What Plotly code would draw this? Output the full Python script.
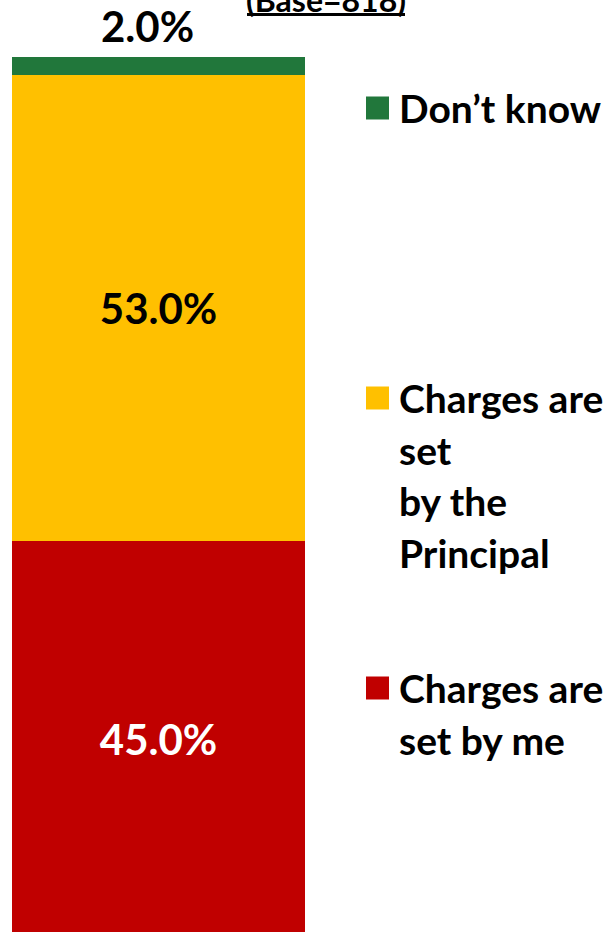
import plotly.graph_objects as go

# Survey responses (Base=818), stacked bottom to top
categories = ["Charges are set by me", "Charges are set by the Principal", "Don’t know"]
values = [45.0, 53.0, 2.0]
colors = ["#C00000", "#FFC000", "#21773B"]
label_colors = ["white", "black", "black"]
# legend text, one string per line, listed top to bottom
legend_lines = [
    ["Don’t know"],
    ["Charges are", "set", "by the", "Principal"],
    ["Charges are", "set by me"],
]
legend_colors = ["#21773B", "#FFC000", "#C00000"]
legend_top_px = [108, 398, 688]
title_text = "(Base=818)"

W, H = 610, 932
ML, MR, MT, MB = 12, 305, 57, 0
PW, PH = W - ML - MR, H - MT - MB
FONT = "Lato"
LABEL_SIZE = 42
LEGEND_SIZE = 39


def px_x(px):
    return (px - ML) / PW


def px_y(py):
    return (H - MB - py) / PH


fig = go.Figure()
n = len(values)
for i, (name, v, c) in enumerate(zip(categories, values, colors)):
    inside = i < n - 1
    fig.add_trace(go.Bar(
        x=[0], y=[v], name=name, width=1,
        marker=dict(color=c, line=dict(width=0)),
        texttemplate="%{y:.1f}%" if inside else "",
        textposition="inside",
        insidetextanchor="middle",
        textfont=dict(family=FONT, size=LABEL_SIZE, color=label_colors[i], weight="bold"),
        showlegend=False,
    ))

annotations = []
# the thin top segment is labelled above the stack
annotations.append(dict(
    text=f"{values[-1]:.1f}%", xref="x", yref="y",
    x=0, y=sum(values), xanchor="center", yanchor="bottom",
    xshift=-11, yshift=4, showarrow=False,
    font=dict(family=FONT, size=LABEL_SIZE, color=label_colors[-1], weight="bold"),
))

shapes = []
line_gap = 51.7
sq = 23
for lines, col, top in zip(legend_lines, legend_colors, legend_top_px):
    shapes.append(dict(
        type="rect", xref="paper", yref="paper",
        x0=px_x(366), x1=px_x(366 + sq),
        y0=px_y(top - sq / 2), y1=px_y(top + sq / 2),
        fillcolor=col, line=dict(width=0),
    ))
    for k, t in enumerate(lines):
        annotations.append(dict(
            text=t, xref="paper", yref="paper",
            x=px_x(397), y=px_y(top + k * line_gap),
            xanchor="left", yanchor="middle", showarrow=False,
            font=dict(family=FONT, size=LEGEND_SIZE, color="black", weight="bold"),
        ))

annotations.append(dict(
    text=title_text, xref="paper", yref="paper",
    x=px_x(326), y=px_y(21), xanchor="center", yanchor="bottom",
    showarrow=False,
    font=dict(family=FONT, size=32, color="black", weight="bold"),
))
# underline beneath the base note
shapes.append(dict(
    type="line", xref="paper", yref="paper",
    x0=px_x(247), x1=px_x(405), y0=px_y(14.5), y1=px_y(14.5),
    line=dict(color="black", width=3),
))

fig.update_layout(
    width=W, height=H,
    margin=dict(l=ML, r=MR, t=MT, b=MB),
    barmode="stack",
    bargap=0,
    plot_bgcolor="white", paper_bgcolor="white",
    xaxis=dict(range=[-0.5, 0.5], visible=False, fixedrange=True),
    yaxis=dict(range=[0.57, 100], visible=False, fixedrange=True),
    shapes=shapes,
    annotations=annotations,
)

fig.write_html("out.html", config={"displayModeBar": False})
